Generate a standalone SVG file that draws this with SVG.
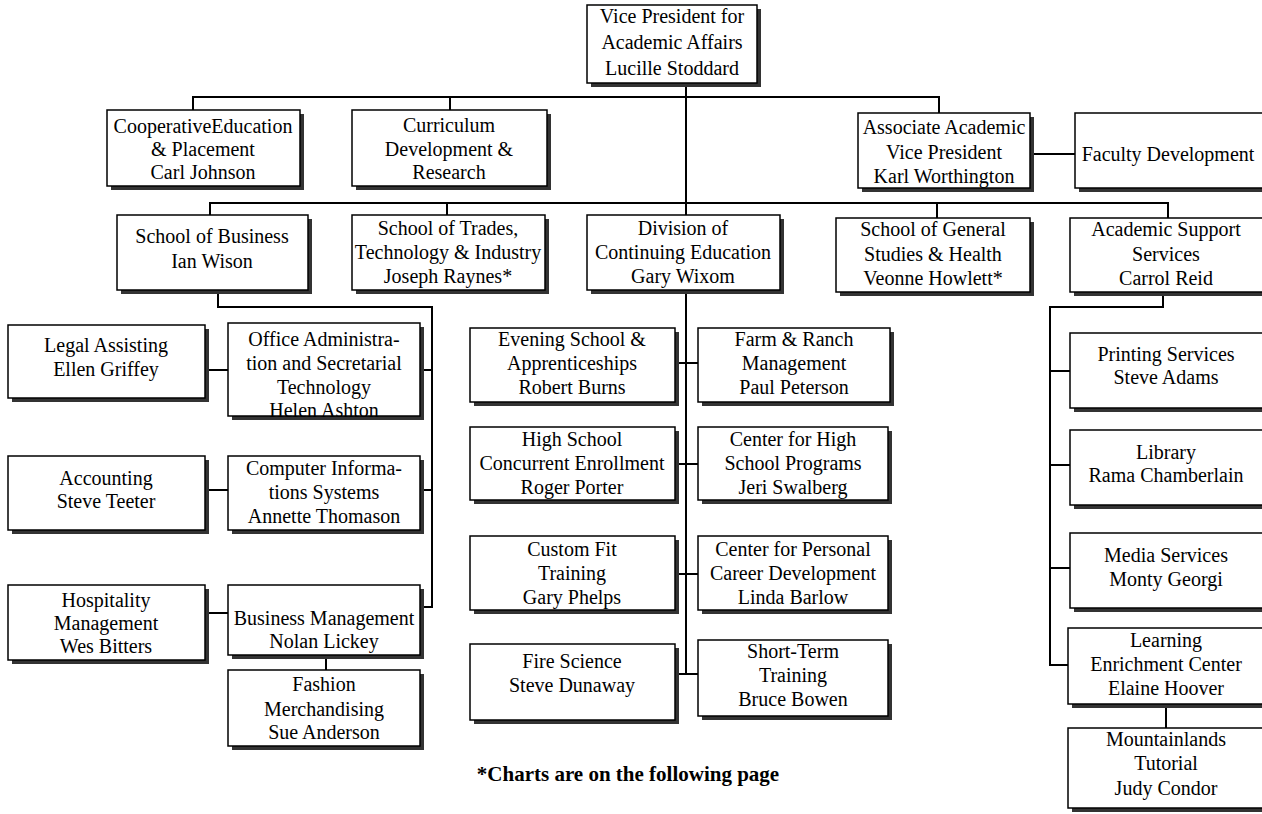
<svg xmlns="http://www.w3.org/2000/svg" width="1262" height="814" viewBox="0 0 1262 814">
<style>
.box{fill:#fff;stroke:#000;stroke-width:1.5}
.sh{fill:#333}
text{font-family:"Liberation Serif","Times New Roman",serif;font-size:20px;fill:#000;text-anchor:middle}
.foot{font-weight:bold;font-size:21px}
.c{fill:none;stroke:#000;stroke-width:2}
</style>
<rect width="1262" height="814" fill="#fff"/>
<g id="connectors">
<path class="c" d="M686 83V215M686 290V674"/>
<path class="c" d="M193 110V97H939V113M450 97V110"/>
<path class="c" d="M1030 154H1075"/>
<path class="c" d="M210 215V203H1168V218M447 203V215M937 203V218"/>
<path class="c" d="M218 290V307H432V607H420M420 370H432M420 490H432"/>
<path class="c" d="M205 370H228M205 490H228M205 613H228M326 655V670"/>
<path class="c" d="M675 363H698M675 464H698M675 574H698M675 674H698"/>
<path class="c" d="M1163 292V307H1050V665H1068M1050 371H1070M1050 465H1070M1050 568H1070M1166 704V728"/>
</g>
<g id="vp"><rect class="sh" x="591" y="9" width="170" height="78"/><rect class="box" x="587" y="5" width="170" height="78"/><text x="672" y="23">Vice President for</text><text x="672" y="49">Academic Affairs</text><text x="672" y="75">Lucille Stoddard</text></g>
<g id="coop"><rect class="sh" x="111" y="114" width="193" height="76"/><rect class="box" x="107" y="110" width="193" height="76"/><text x="203" y="133">CooperativeEducation</text><text x="203" y="156">&amp; Placement</text><text x="203" y="179">Carl Johnson</text></g>
<g id="curriculum"><rect class="sh" x="356" y="114" width="195" height="76"/><rect class="box" x="352" y="110" width="195" height="76"/><text x="449" y="132">Curriculum</text><text x="449" y="156">Development &amp;</text><text x="449" y="179">Research</text></g>
<g id="associate"><rect class="sh" x="862" y="117" width="172" height="75"/><rect class="box" x="858" y="113" width="172" height="75"/><text x="944" y="134">Associate Academic</text><text x="944" y="159">Vice President</text><text x="944" y="183">Karl Worthington</text></g>
<g id="faculty"><rect class="sh" x="1079" y="117" width="190" height="75"/><rect class="box" x="1075" y="113" width="190" height="75"/><text x="1168" y="161">Faculty Development</text></g>
<g id="business"><rect class="sh" x="121" y="219" width="191" height="75"/><rect class="box" x="117" y="215" width="191" height="75"/><text x="212" y="243">School of Business</text><text x="212" y="268">Ian Wison</text></g>
<g id="trades"><rect class="sh" x="356" y="219" width="193" height="75"/><rect class="box" x="352" y="215" width="193" height="75"/><text x="448" y="235">School of Trades,</text><text x="448" y="259">Technology &amp; Industry</text><text x="448" y="283">Joseph Raynes*</text></g>
<g id="division"><rect class="sh" x="591" y="219" width="193" height="75"/><rect class="box" x="587" y="215" width="193" height="75"/><text x="683" y="235">Division of</text><text x="683" y="259">Continuing Education</text><text x="683" y="283">Gary Wixom</text></g>
<g id="general"><rect class="sh" x="840" y="222" width="194" height="74"/><rect class="box" x="836" y="218" width="194" height="74"/><text x="933" y="236">School of General</text><text x="933" y="261">Studies &amp; Health</text><text x="933" y="285">Veonne Howlett*</text></g>
<g id="support"><rect class="sh" x="1074" y="222" width="194" height="74"/><rect class="box" x="1070" y="218" width="194" height="74"/><text x="1166" y="236">Academic Support</text><text x="1166" y="261">Services</text><text x="1166" y="285">Carrol Reid</text></g>
<g id="legal"><rect class="sh" x="12" y="329" width="197" height="73"/><rect class="box" x="8" y="325" width="197" height="73"/><text x="106" y="352">Legal Assisting</text><text x="106" y="376">Ellen Griffey</text></g>
<g id="office"><rect class="sh" x="232" y="327" width="192" height="93"/><rect class="box" x="228" y="323" width="192" height="93"/><text x="324" y="346">Office Administra-</text><text x="324" y="370">tion and Secretarial</text><text x="324" y="394">Technology</text><text x="324" y="417">Helen Ashton</text></g>
<g id="accounting"><rect class="sh" x="12" y="460" width="197" height="74"/><rect class="box" x="8" y="456" width="197" height="74"/><text x="106" y="485">Accounting</text><text x="106" y="508">Steve Teeter</text></g>
<g id="computer"><rect class="sh" x="232" y="460" width="192" height="74"/><rect class="box" x="228" y="456" width="192" height="74"/><text x="324" y="475">Computer Informa-</text><text x="324" y="499">tions Systems</text><text x="324" y="523">Annette Thomason</text></g>
<g id="hospitality"><rect class="sh" x="12" y="589" width="197" height="75"/><rect class="box" x="8" y="585" width="197" height="75"/><text x="106" y="607">Hospitality</text><text x="106" y="630">Management</text><text x="106" y="653">Wes Bitters</text></g>
<g id="bizmgmt"><rect class="sh" x="232" y="589" width="192" height="70"/><rect class="box" x="228" y="585" width="192" height="70"/><text x="324" y="625">Business Management</text><text x="324" y="648">Nolan Lickey</text></g>
<g id="fashion"><rect class="sh" x="232" y="674" width="192" height="76"/><rect class="box" x="228" y="670" width="192" height="76"/><text x="324" y="691">Fashion</text><text x="324" y="716">Merchandising</text><text x="324" y="739">Sue Anderson</text></g>
<g id="evening"><rect class="sh" x="474" y="332" width="205" height="74"/><rect class="box" x="470" y="328" width="205" height="74"/><text x="572" y="346">Evening School &amp;</text><text x="572" y="370">Apprenticeships</text><text x="572" y="394">Robert Burns</text></g>
<g id="farm"><rect class="sh" x="702" y="332" width="192" height="74"/><rect class="box" x="698" y="328" width="192" height="74"/><text x="794" y="346">Farm &amp; Ranch</text><text x="794" y="370">Management</text><text x="794" y="394">Paul Peterson</text></g>
<g id="highschool"><rect class="sh" x="474" y="431" width="205" height="73"/><rect class="box" x="470" y="427" width="205" height="73"/><text x="572" y="446">High School</text><text x="572" y="470">Concurrent Enrollment</text><text x="572" y="494">Roger Porter</text></g>
<g id="centerhigh"><rect class="sh" x="702" y="431" width="190" height="73"/><rect class="box" x="698" y="427" width="190" height="73"/><text x="793" y="446">Center for High</text><text x="793" y="470">School Programs</text><text x="793" y="494">Jeri Swalberg</text></g>
<g id="customfit"><rect class="sh" x="474" y="540" width="205" height="74"/><rect class="box" x="470" y="536" width="205" height="74"/><text x="572" y="556">Custom Fit</text><text x="572" y="580">Training</text><text x="572" y="604">Gary Phelps</text></g>
<g id="centerpersonal"><rect class="sh" x="702" y="540" width="190" height="74"/><rect class="box" x="698" y="536" width="190" height="74"/><text x="793" y="556">Center for Personal</text><text x="793" y="580">Career Development</text><text x="793" y="604">Linda Barlow</text></g>
<g id="fire"><rect class="sh" x="474" y="648" width="205" height="76"/><rect class="box" x="470" y="644" width="205" height="76"/><text x="572" y="668">Fire Science</text><text x="572" y="692">Steve Dunaway</text></g>
<g id="shortterm"><rect class="sh" x="702" y="644" width="190" height="76"/><rect class="box" x="698" y="640" width="190" height="76"/><text x="793" y="658">Short-Term</text><text x="793" y="682">Training</text><text x="793" y="706">Bruce Bowen</text></g>
<g id="printing"><rect class="sh" x="1074" y="337" width="194" height="75"/><rect class="box" x="1070" y="333" width="194" height="75"/><text x="1166" y="361">Printing Services</text><text x="1166" y="384">Steve Adams</text></g>
<g id="library"><rect class="sh" x="1074" y="434" width="194" height="75"/><rect class="box" x="1070" y="430" width="194" height="75"/><text x="1166" y="459">Library</text><text x="1166" y="482">Rama Chamberlain</text></g>
<g id="media"><rect class="sh" x="1074" y="537" width="194" height="75"/><rect class="box" x="1070" y="533" width="194" height="75"/><text x="1166" y="562">Media Services</text><text x="1166" y="586">Monty Georgi</text></g>
<g id="learning"><rect class="sh" x="1072" y="632" width="196" height="76"/><rect class="box" x="1068" y="628" width="196" height="76"/><text x="1166" y="647">Learning</text><text x="1166" y="671">Enrichment Center</text><text x="1166" y="695">Elaine Hoover</text></g>
<g id="mountainlands"><rect class="sh" x="1072" y="732" width="196" height="80"/><rect class="box" x="1068" y="728" width="196" height="80"/><text x="1166" y="746">Mountainlands</text><text x="1166" y="770">Tutorial</text><text x="1166" y="795">Judy Condor</text></g>
<text class="foot" x="628" y="781">*Charts are on the following page</text>
</svg>
